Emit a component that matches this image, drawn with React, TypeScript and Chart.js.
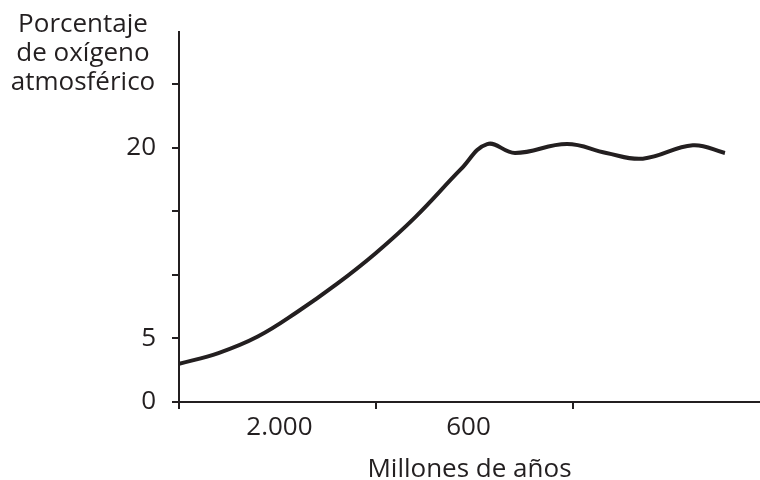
import React, { useEffect, useRef } from 'react';
import { Chart, registerables } from 'chart.js';

Chart.register(...registerables);

// Time position along the axis (tick units: 0 = start, 1 and 2 = the two inner tick marks)
const timePositions = [0, 0.2, 0.4, 0.6, 0.8, 1.0, 1.2, 1.43, 1.565, 1.706, 1.97, 2.17, 2.355, 2.609, 2.772];
// Percentage of atmospheric oxygen
const oxygenPercent = [3.0, 3.85, 5.15, 7.08, 9.27, 11.73, 14.55, 18.3, 20.3, 19.6, 20.3, 19.6, 19.15, 20.2, 19.6];

const xLabelPositions = [0.51, 1.47];
const xLabels = ['2.000', '600'];
const yLabelValues = [0, 5, 20];
const yTitleLines = ['Porcentaje', 'de oxígeno', 'atmosférico'];
const xTitle = 'Millones de años';

const INK = '#231f20';
const FONT = 'Open Sans';
const SIZE = 26;

const yTitlePlugin = {
  id: 'yTitle',
  afterDraw(chart: any) {
    const ctx = chart.ctx;
    ctx.save();
    ctx.fillStyle = INK;
    ctx.font = `${SIZE}px "${FONT}"`;
    ctx.textAlign = 'center';
    ctx.textBaseline = 'alphabetic';
    yTitleLines.forEach((line, i) => {
      ctx.fillText(line, 83, 32 + i * 29);
    });
    ctx.restore();
  },
};

export default function App() {
  const ref = useRef<HTMLCanvasElement>(null);
  useEffect(() => {
    const chart = new Chart(ref.current!, {
      type: 'line',
      data: {
        datasets: [
          {
            data: timePositions.map((x, i) => ({ x, y: oxygenPercent[i] })),
            borderColor: INK,
            borderWidth: 4,
            pointRadius: 0,
            tension: 0.4,
            fill: false,
          },
        ],
      },
      options: {
        responsive: false,
        animation: false,
        layout: { padding: { top: 23, left: 0, right: 0, bottom: 0 } },
        plugins: { legend: { display: false }, tooltip: { enabled: false } },
        scales: {
          x: {
            type: 'linear',
            position: 'bottom',
            weight: 0,
            min: 0,
            max: 2.95,
            ticks: { stepSize: 1, display: false, includeBounds: false },
            grid: { display: true, drawOnChartArea: false, drawTicks: true, tickLength: 7, color: INK, lineWidth: 2 },
            border: { display: true, color: INK, width: 2 },
            afterFit: (s: any) => { s.height = 8; },
          },
          xLab: {
            type: 'linear',
            position: 'bottom',
            weight: 1,
            min: 0,
            max: 2.95,
            afterBuildTicks: (s: any) => { s.ticks = xLabelPositions.map((v) => ({ value: v })); },
            ticks: {
              callback: (_v: any, i: number) => xLabels[i],
              font: { family: FONT, size: SIZE },
              color: INK,
              padding: 2,
              maxRotation: 0,
              autoSkip: false,
            },
            grid: { display: false, drawTicks: false },
            border: { display: false },
            title: { display: true, text: xTitle, font: { family: FONT, size: SIZE }, color: INK, padding: { top: 0, bottom: -5 } },
            afterFit: (s: any) => { s.height = 70; },
          },
          y: {
            type: 'linear',
            min: 0,
            max: 29.15,
            ticks: {
              stepSize: 5,
              includeBounds: false,
              callback: (v: any) => (yLabelValues.includes(v) ? String(v) : ''),
              font: { family: FONT, size: SIZE },
              color: INK,
              padding: 16,
            },
            grid: { display: true, drawOnChartArea: false, drawTicks: true, tickLength: 7, color: INK, lineWidth: 2 },
            border: { display: true, color: INK, width: 2 },
            afterFit: (s: any) => { s.width = 179; },
          },
        },
      } as any,
      plugins: [yTitlePlugin],
    });
    return () => chart.destroy();
  }, []);
  return (
    <div style={{ position: 'fixed', left: 0, top: 0, width: 760, height: 480, background: '#fff' }}>
      <canvas ref={ref} width={760} height={480} style={{ display: 'block' }} />
    </div>
  );
}
